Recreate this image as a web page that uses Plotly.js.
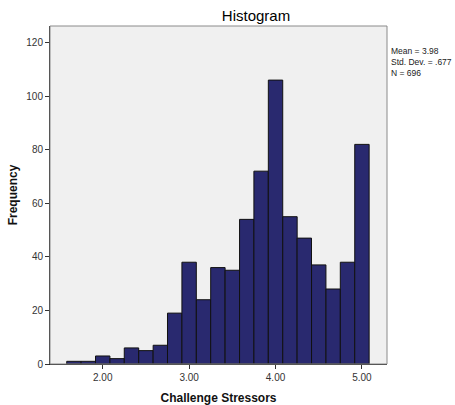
<!DOCTYPE html>
<html>
<head>
<meta charset="utf-8">
<script src="https://cdn.plot.ly/plotly-3.0.1.min.js"></script>
<style>html,body{margin:0;padding:0;background:#fff;}#chart{width:455px;height:405px;}</style>
</head>
<body>
<div id="chart"></div>
<script>
const binCenters = [1.667, 1.833, 2.0, 2.167, 2.333, 2.5, 2.667, 2.833, 3.0, 3.167, 3.333, 3.5, 3.667, 3.833, 4.0, 4.167, 4.333, 4.5, 4.667, 4.833, 5.0];
const frequencies = [1, 1, 3, 2, 6, 5, 7, 19, 38, 24, 36, 35, 54, 72, 106, 55, 47, 37, 28, 38, 82];
const binWidth = 1/6;
const xTickVals = [2, 3, 4, 5];
const xTickText = ["2.00", "3.00", "4.00", "5.00"];
const yTickVals = [0, 20, 40, 60, 80, 100, 120];
const statsLines = ["Mean = 3.98", "Std. Dev. = .677", "N = 696"];

const trace = {
  type: 'bar',
  x: binCenters,
  y: frequencies,
  width: binCenters.map(() => binWidth),
  marker: { color: '#29296f', line: { color: '#111111', width: 1 } },
  hoverinfo: 'x+y'
};

const layout = {
  width: 455, height: 405,
  margin: { l: 50, r: 68, t: 26, b: 41 },
  paper_bgcolor: '#ffffff',
  plot_bgcolor: '#f0f0f0',
  font: { family: 'Liberation Sans, Arial, sans-serif', size: 10, color: '#222' },
  title: { text: 'Histogram', font: { size: 15, color: '#000' }, x: 256/455, xanchor: 'center', y: 1 - 16/405, yanchor: 'middle' },
  bargap: 0,
  showlegend: false,
  xaxis: {
    range: [1.39, 5.29],
    tickvals: xTickVals, ticktext: xTickText,
    ticks: 'outside', ticklen: 4, tickcolor: '#333',
    showgrid: false, zeroline: false,
    showline: true, linecolor: '#222', linewidth: 1,
    tickfont: { size: 10, color: '#333' },
    title: { text: '<b>Challenge Stressors</b>', font: { size: 12, color: '#111' }, standoff: 12 }
  },
  yaxis: {
    range: [0, 126.2],
    tickvals: yTickVals,
    ticks: 'outside', ticklen: 4, tickcolor: '#333',
    showgrid: false, zeroline: false,
    showline: true, linecolor: '#222', linewidth: 1,
    tickfont: { size: 10, color: '#333' },
    title: { text: '<b>Frequency</b>', font: { size: 12, color: '#111' }, standoff: 6 }
  },
  shapes: [
    { type: 'rect', xref: 'paper', yref: 'paper', x0: 0, x1: 1, y0: 0, y1: 1, line: { color: '#8a8a8a', width: 1 }, layer: 'above' }
  ],
  annotations: [
    { xref: 'paper', yref: 'paper', x: 1.008, y: 0.945, xanchor: 'left', yanchor: 'top', align: 'left', showarrow: false,
      borderpad: 0, text: statsLines.join('<br>'), font: { size: 8.5, color: '#222' } }
  ]
};

Plotly.newPlot('chart', [trace], layout, { displayModeBar: false, staticPlot: true });
</script>
</body>
</html>
